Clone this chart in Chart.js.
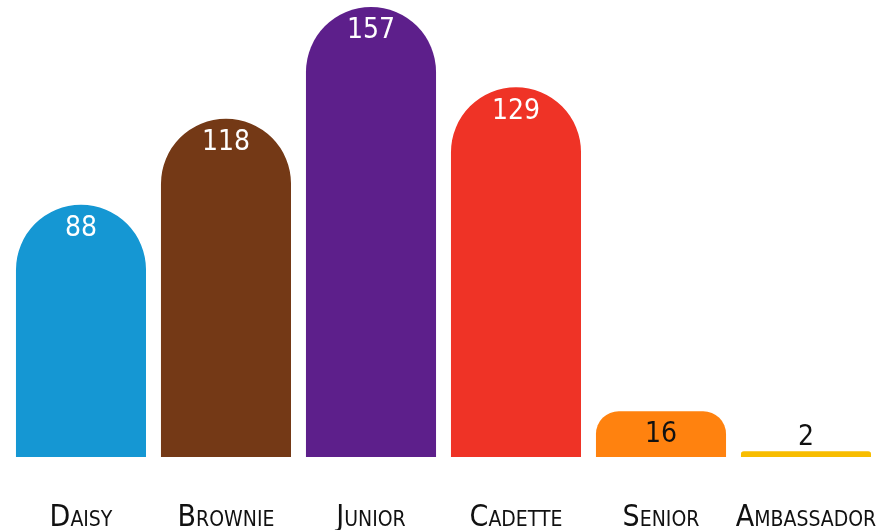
<!DOCTYPE html>
<html>
<head>
<meta charset="utf-8">
<script src="https://cdn.jsdelivr.net/npm/chart.js@4.4.1/dist/chart.umd.min.js"></script>
<style>
  html, body { margin: 0; padding: 0; background: #fff; overflow: hidden; }
  canvas { display: block; }
</style>
</head>
<body>
<canvas id="barChart" width="888" height="530"></canvas>
<script>
// Dados do gráfico
const levels = ['Daisy', 'Brownie', 'Junior', 'Cadette', 'Senior', 'Ambassador'];
const counts = [88, 118, 157, 129, 16, 2];
const barColors = ['#1597D3', '#743916', '#5D1F8B', '#EF3326', '#FF820F', '#F8BD00'];
const labelColors = ['#fff', '#fff', '#fff', '#fff', '#111', '#111'];

const handFont = '"Liberation Sans Narrow", "DejaVu Sans Condensed", sans-serif';

// Rótulos de valor dentro do topo das barras + nomes das categorias (versaletes)
const barLabels = {
    id: 'barLabels',
    afterDatasetsDraw(chart) {
        const ctx = chart.ctx;
        const meta = chart.getDatasetMeta(0);
        const xScale = chart.scales.x;
        ctx.save();
        ctx.textAlign = 'center';
        ctx.textBaseline = 'middle';
        ctx.font = '28px ' + handFont;
        meta.data.forEach((bar, i) => {
            const y = Math.min(bar.y + 24, bar.base - 19);
            ctx.fillStyle = labelColors[i];
            ctx.fillText(String(counts[i]), bar.x, y);
        });
        ctx.font = 'small-caps 30px ' + handFont;
        ctx.textBaseline = 'alphabetic';
        ctx.fillStyle = '#111';
        levels.forEach((name, i) => {
            ctx.fillText(name, xScale.getPixelForValue(i), chart.chartArea.bottom + 69);
        });
        ctx.restore();
    }
};

new Chart(document.getElementById('barChart'), {
    type: 'bar',
    data: {
        labels: levels,
        datasets: [{
            data: counts,
            backgroundColor: barColors,
            borderRadius: { topLeft: 65, topRight: 65, bottomLeft: 0, bottomRight: 0 },
            borderSkipped: false,
            categoryPercentage: 0.897,
            barPercentage: 1
        }]
    },
    options: {
        responsive: false,
        animation: false,
        devicePixelRatio: 1,
        layout: { padding: { top: 7, left: 8.5, right: 9.5, bottom: 73 } },
        plugins: {
            legend: { display: false },
            tooltip: { enabled: false }
        },
        scales: {
            x: { display: false },
            y: { display: false, min: 0, max: 157 }
        }
    },
    plugins: [barLabels]
});
</script>
</body>
</html>
